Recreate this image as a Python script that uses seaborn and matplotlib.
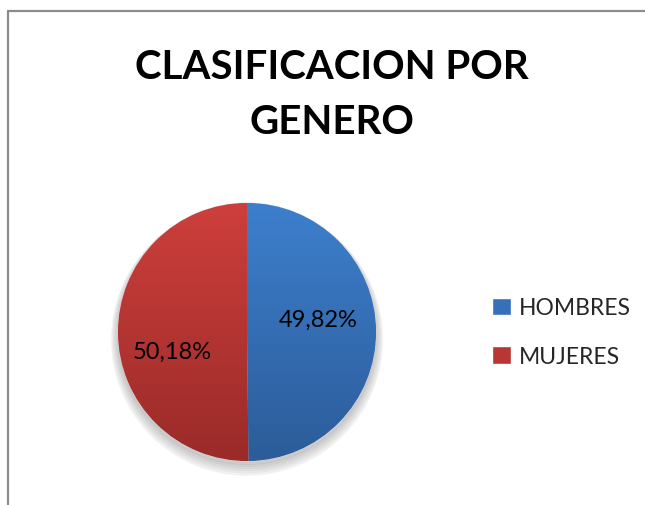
import numpy as np
import matplotlib
matplotlib.use("Agg")
import matplotlib.pyplot as plt
import seaborn as sns
from matplotlib.patches import Rectangle
from matplotlib.lines import Line2D

categorias = ["HOMBRES", "MUJERES"]
porcentajes = [49.82, 50.18]
titulo = "CLASIFICACION POR\nGENERO"

sns.set_style("white")
plt.rcParams['font.family'] = ['Lato', 'DejaVu Sans']

# colores tipo Excel (arriba / abajo del degradado)
top_cols = ["#3d7fcd", "#cd3f3c"]
bot_cols = ["#2c5c99", "#9a2b29"]
mid_cols = ["#3570b8", "#b83634"]

W, H = 645, 506
fig = plt.figure(figsize=(W / 100, H / 100), dpi=100)

# marco gris (solo arriba e izquierda visibles)
fig.add_artist(Line2D([8 / W, 1.0], [1 - 12 / H, 1 - 12 / H], color="#8c8c8c", lw=1.6))
fig.add_artist(Line2D([8 / W, 8 / W], [1 - 12 / H, 0.0], color="#8c8c8c", lw=1.6))

fig.text(332 / W, 1 - 95 / H, titulo, ha="center", va="center",
         fontsize=29, fontweight="bold", linespacing=1.62, color="black")

cx, cy, r = 247, 333, 129
ax = fig.add_axes([(cx - r) / W, (H - cy - r) / H, 2 * r / W, 2 * r / H])


def fmt(p):
    return f"{p:.2f}".replace(".", ",") + "%"


wedges, textos = ax.pie(porcentajes, startangle=90, counterclock=False,
                        colors=mid_cols, radius=1.0,
                        wedgeprops=dict(linewidth=0.6, edgecolor="#d8d8d8"))

# sombra suave debajo
for k in range(6):
    sh = plt.Circle((0, -0.03 - k * 0.006), 1.0 + k * 0.01, color="black",
                    alpha=0.035, zorder=0, clip_on=False)
    ax.add_patch(sh)

# degradado vertical dentro de cada porcion
for w, c1, c2 in zip(wedges, top_cols, bot_cols):
    a = np.array(matplotlib.colors.to_rgb(c1))
    b = np.array(matplotlib.colors.to_rgb(c2))
    t = np.linspace(0, 1, 256)[:, None]
    grad = (a[None, :] * (1 - t) + b[None, :] * t)[:, None, :]
    im = ax.imshow(grad, extent=[-1, 1, -1, 1], origin="upper", aspect="auto",
                   zorder=w.get_zorder() + 0.1)
    im.set_clip_path(w)

# etiquetas de porcentaje
pos = [(0.55, 0.10), (-0.58, -0.147)]
for (x, y), p in zip(pos, porcentajes):
    ax.text(x, y, fmt(p), ha="center", va="center", fontsize=17, color="black",
            zorder=10)

ax.set_xlim(-1.0, 1.0)
ax.set_ylim(-1.0, 1.0)
ax.set_aspect("equal")
ax.axis("off")

handles = [Rectangle((0, 0), 1, 1, facecolor=c) for c in mid_cols]
fig.legend(handles, categorias, loc="center left",
           bbox_to_anchor=(481 / W, 1 - 333 / H), frameon=False,
           fontsize=16.5, handlelength=0.8, handleheight=0.8,
           handletextpad=0.35, labelspacing=1.2, borderpad=0)

fig.savefig("out.png", dpi=100)
